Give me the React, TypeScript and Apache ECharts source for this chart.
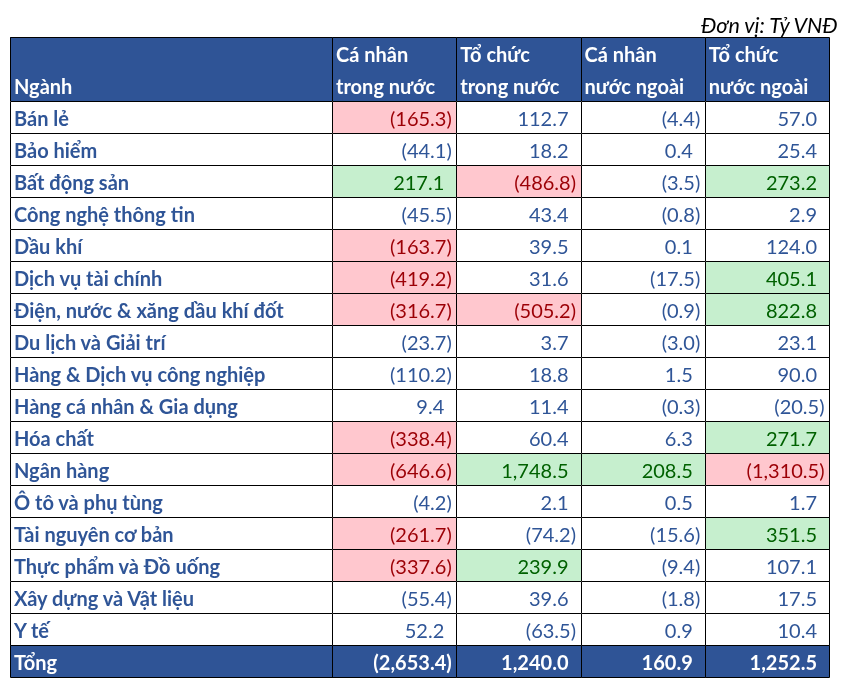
import React, { useEffect, useRef } from "react";
import * as echarts from "echarts";

const sectors = [
  "Bán lẻ",
  "Bảo hiểm",
  "Bất động sản",
  "Công nghệ thông tin",
  "Dầu khí",
  "Dịch vụ tài chính",
  "Điện, nước & xăng dầu khí đốt",
  "Du lịch và Giải trí",
  "Hàng & Dịch vụ công nghiệp",
  "Hàng cá nhân & Gia dụng",
  "Hóa chất",
  "Ngân hàng",
  "Ô tô và phụ tùng",
  "Tài nguyên cơ bản",
  "Thực phẩm và Đồ uống",
  "Xây dựng và Vật liệu",
  "Y tế",
];

const caNhanTrongNuoc = [-165.3, -44.1, 217.1, -45.5, -163.7, -419.2, -316.7, -23.7, -110.2, 9.4, -338.4, -646.6, -4.2, -261.7, -337.6, -55.4, 52.2];
const toChucTrongNuoc = [112.7, 18.2, -486.8, 43.4, 39.5, 31.6, -505.2, 3.7, 18.8, 11.4, 60.4, 1748.5, 2.1, -74.2, 239.9, 39.6, -63.5];
const caNhanNuocNgoai = [-4.4, 0.4, -3.5, -0.8, 0.1, -17.5, -0.9, -3.0, 1.5, -0.3, 6.3, 208.5, 0.5, -15.6, -9.4, -1.8, 0.9];
const toChucNuocNgoai = [57.0, 25.4, 273.2, 2.9, 124.0, 405.1, 822.8, 23.1, 90.0, -20.5, 271.7, -1310.5, 1.7, 351.5, 107.1, 17.5, 10.4];
const totals = [-2653.4, 1240.0, 160.9, 1252.5];

// highlight marks: r = red fill, g = green fill
const hlCaNhanTrongNuoc = ["r", "", "g", "", "r", "r", "r", "", "", "", "r", "r", "", "r", "r", "", ""];
const hlToChucTrongNuoc = ["", "", "r", "", "", "", "r", "", "", "", "", "g", "", "", "g", "", ""];
const hlCaNhanNuocNgoai = ["", "", "", "", "", "", "", "", "", "", "", "g", "", "", "", "", ""];
const hlToChucNuocNgoai = ["", "", "g", "", "", "g", "g", "", "", "", "g", "r", "", "g", "", "", ""];

const firstHeader = "Ngành";
const totalLabel = "Tổng";
const colHeaders = [
  ["Cá nhân", "trong nước"],
  ["Tổ chức", "trong nước"],
  ["Cá nhân", "nước ngoài"],
  ["Tổ chức", "nước ngoài"],
];
const unitNote = "Đơn vị: Tỷ VNĐ";

const HEADER_BG = "#2F5496";
const TEXT_BLUE = "#2F5597";
const RED_FILL = "#FFC7CE";
const RED_TEXT = "#9C0006";
const GREEN_FILL = "#C6EFCE";
const GREEN_TEXT = "#006100";
const FONT = "Lato";
const FS = 20;

const fmt = (v: number) => {
  const s = Math.abs(v).toLocaleString("en-US", { minimumFractionDigits: 1, maximumFractionDigits: 1 });
  return v < 0 ? `(${s})` : s;
};

type Cell = { col: number; row: number; kind: "header" | "body" | "total"; text?: string; value?: number; hl?: string };

export default function App() {
  const ref = useRef<HTMLDivElement>(null);
  useEffect(() => {
    if (!ref.current) return;
    const chart = echarts.init(ref.current, undefined, { renderer: "svg" });

    const rowNames = ["h1", "h2", ...sectors, totalLabel];
    const colVals = [caNhanTrongNuoc, toChucTrongNuoc, caNhanNuocNgoai, toChucNuocNgoai];
    const colHl = [hlCaNhanTrongNuoc, hlToChucTrongNuoc, hlCaNhanNuocNgoai, hlToChucNuocNgoai];

    const nameCells: Cell[] = [{ col: 0, row: 0, kind: "header", text: firstHeader }];
    sectors.forEach((s, i) => nameCells.push({ col: 0, row: i + 2, kind: "body", text: s }));
    nameCells.push({ col: 0, row: sectors.length + 2, kind: "total", text: totalLabel });

    const numCells: Cell[] = [];
    colHeaders.forEach((_, c) => numCells.push({ col: c, row: 0, kind: "header" }));
    colVals.forEach((arr, c) =>
      arr.forEach((v, i) => numCells.push({ col: c, row: i + 2, kind: "body", value: v, hl: colHl[c][i] }))
    );
    totals.forEach((v, c) => numCells.push({ col: c, row: sectors.length + 2, kind: "total", value: v }));

    const makeRender = (cells: Cell[], isName: boolean) => (params: any, api: any) => {
      const cell = cells[params.dataIndex];
      const p = api.coord([cell.col, cell.row]);
      const sz = api.size([1, 1]);
      const w = Math.abs(sz[0]);
      const h = Math.abs(sz[1]);
      const x0 = p[0] - w / 2;
      const y0 = p[1] - h / 2;
      const hh = cell.kind === "header" ? 2 * h : h;
      let fill = "#ffffff";
      let tcolor = TEXT_BLUE;
      if (cell.kind !== "body") {
        fill = HEADER_BG;
        tcolor = "#ffffff";
      } else if (cell.hl === "r") {
        fill = RED_FILL;
        tcolor = RED_TEXT;
      } else if (cell.hl === "g") {
        fill = GREEN_FILL;
        tcolor = GREEN_TEXT;
      }
      const bx = Math.round(x0);
      const by = Math.round(y0);
      const bw = Math.round(x0 + w) - bx;
      const bh = Math.round(y0 + hh) - by;
      const children: any[] = [
        { type: "rect", shape: { x: bx, y: by, width: bw, height: bh }, style: { fill } },
        {
          type: "rect",
          shape: { x: bx + 0.5, y: by + 0.5, width: bw, height: bh },
          style: { fill: "none", stroke: "#000", lineWidth: 1 },
        },
      ];
      const weight = isName || cell.kind !== "body" ? "bold" : "normal";
      const font = `${weight} ${FS}px ${FONT}`;
      if (isName) {
        children.push({
          type: "text",
          x: x0 + 4,
          y: y0 + hh - h / 2 + 1,
          style: { text: cell.text, align: "left", verticalAlign: "middle", fill: tcolor, font },
        });
      } else if (cell.kind === "header") {
        const lines = colHeaders[cell.col];
        lines.forEach((ln, k) =>
          children.push({
            type: "text",
            x: x0 + 4,
            y: y0 + h * k + h / 2 + 1,
            style: { text: ln, align: "left", verticalAlign: "middle", fill: tcolor, font },
          })
        );
      } else {
        const v = cell.value as number;
        children.push({
          type: "text",
          x: x0 + w - (v < 0 ? 4.5 : 12),
          y: y0 + h / 2 + 1,
          style: { text: fmt(v), align: "right", verticalAlign: "middle", fill: tcolor, font },
        });
      }
      return { type: "group", children };
    };

    chart.setOption({
      animation: false,
      title: {
        text: unitNote,
        right: 4,
        top: 9,
        textStyle: { fontFamily: FONT, fontStyle: "italic", fontWeight: "normal", fontSize: 21.5, color: "#000" },
      },
      grid: [
        { left: 10, top: 37, width: 323, height: 640 },
        { left: 332, top: 37, width: 497, height: 640 },
      ],
      xAxis: [
        { type: "category", gridIndex: 0, data: [firstHeader], show: false },
        { type: "category", gridIndex: 1, data: colHeaders.map((c) => c.join(" ")), show: false },
      ],
      yAxis: [
        { type: "category", gridIndex: 0, data: rowNames, inverse: true, show: false },
        { type: "category", gridIndex: 1, data: rowNames, inverse: true, show: false },
      ],
      series: [
        {
          type: "custom",
          xAxisIndex: 0,
          yAxisIndex: 0,
          clip: false,
          z: 2,
          data: nameCells.map((c) => [c.col, c.row]),
          renderItem: makeRender(nameCells, true),
        },
        {
          type: "custom",
          xAxisIndex: 1,
          yAxisIndex: 1,
          clip: false,
          z: 3,
          data: numCells.map((c) => [c.col, c.row]),
          renderItem: makeRender(numCells, false),
        },
      ],
    });
    return () => chart.dispose();
  }, []);
  return <div ref={ref} style={{ position: "fixed", left: 0, top: 0, width: 849, height: 691 }} />;
}
